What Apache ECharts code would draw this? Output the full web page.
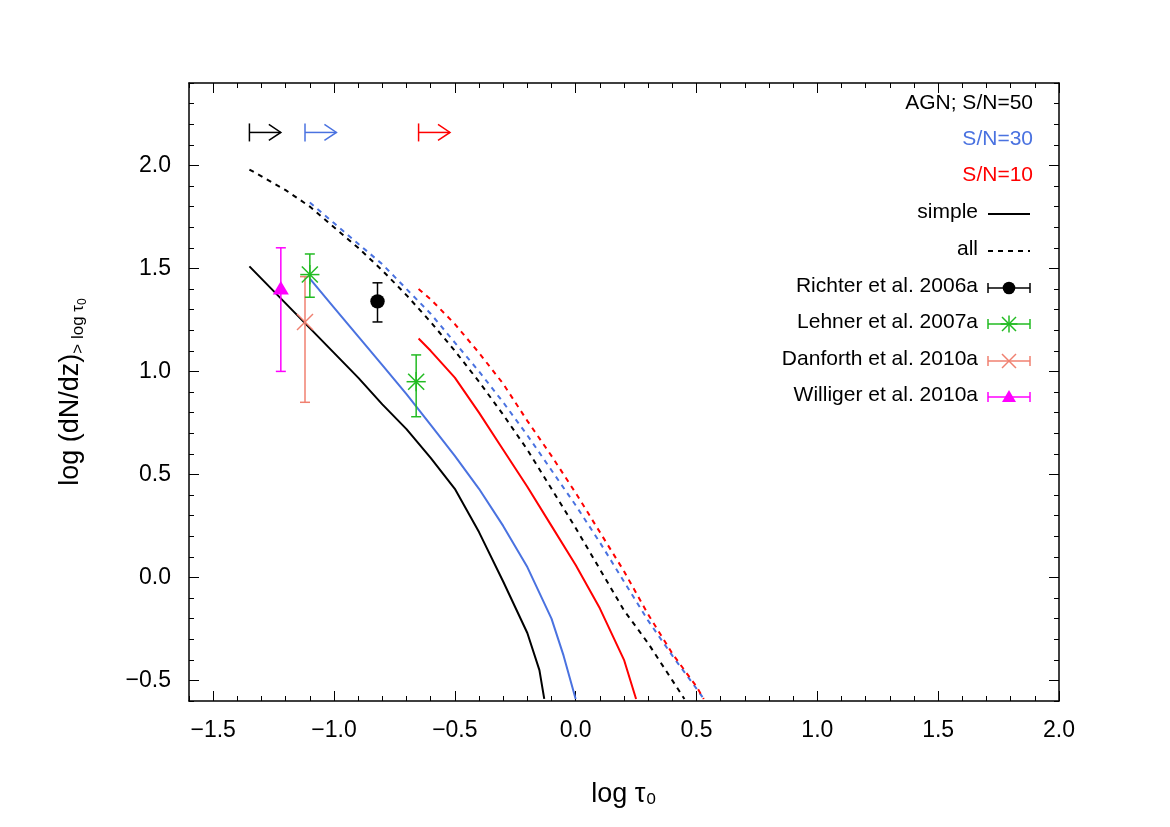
<!DOCTYPE html>
<html lang="en">
  <head>
    <meta charset="utf-8" />
    <title>dN/dz</title>
    <script src="https://cdn.jsdelivr.net/npm/echarts@6/dist/echarts.min.js"></script>
  </head>
  <body style="margin:0">
    <div id="main" style="width: 1170px; height: 827px;"></div>
    <script type="text/javascript">
      // curves: [log tau0, log dN/dz]
      const simple50 = [[-1.35,1.51],[-1.2,1.33],[-1.1,1.21],[-1.0,1.09],[-0.9,0.97],[-0.8,0.84],[-0.7,0.72],[-0.6,0.58],[-0.5,0.43],[-0.4,0.22],[-0.3,-0.02],[-0.2,-0.27],[-0.15,-0.45],[-0.13,-0.59]]
      const simple30 = [[-1.1,1.45],[-1.0,1.31],[-0.9,1.17],[-0.8,1.03],[-0.7,0.89],[-0.6,0.74],[-0.5,0.59],[-0.4,0.43],[-0.3,0.25],[-0.2,0.05],[-0.1,-0.20],[-0.05,-0.38],[0.0,-0.59]]
      const simple10 = [[-0.65,1.16],[-0.6,1.10],[-0.5,0.97],[-0.4,0.80],[-0.3,0.62],[-0.2,0.44],[-0.1,0.25],[0.0,0.06],[0.1,-0.15],[0.2,-0.40],[0.25,-0.59]]
      const all50 = [[-1.35,1.98],[-1.2,1.88],[-1.1,1.80],[-1.0,1.70],[-0.9,1.60],[-0.8,1.49],[-0.7,1.37],[-0.6,1.24],[-0.5,1.10],[-0.4,0.95],[-0.3,0.79],[-0.2,0.62],[-0.1,0.43],[0.0,0.24],[0.1,0.04],[0.2,-0.16],[0.3,-0.32],[0.4,-0.50],[0.45,-0.59]]
      const all30 = [[-1.1,1.82],[-1.0,1.72],[-0.9,1.62],[-0.8,1.52],[-0.7,1.40],[-0.6,1.28],[-0.5,1.14],[-0.4,1.00],[-0.3,0.85],[-0.2,0.69],[-0.1,0.52],[0.0,0.35],[0.1,0.17],[0.2,-0.02],[0.3,-0.21],[0.4,-0.38],[0.5,-0.54],[0.53,-0.59]]
      const all10 = [[-0.65,1.40],[-0.6,1.35],[-0.5,1.23],[-0.4,1.09],[-0.3,0.94],[-0.2,0.76],[-0.1,0.59],[0.0,0.41],[0.1,0.22],[0.2,0.03],[0.3,-0.18],[0.4,-0.37],[0.5,-0.53],[0.53,-0.59]]
      // observations: [x, y, ylow, yhigh]
      const richter = [[-0.82,1.34,1.24,1.43]]
      const lehner = [[-1.10,1.47,1.36,1.57],[-0.66,0.95,0.78,1.08]]
      const danforth = [[-1.12,1.24,0.85,1.46]]
      const williger = [[-1.22,1.40,1.00,1.60]]
      // completeness limits: [x start, x end, y, colour]
      const limits = [[-1.35,-1.22,2.16,'#000'],[-1.12,-0.99,2.16,'#4a72e0'],[-0.65,-0.52,2.16,'#f00']]
      // tick values
      const xMajor = [-1.5, -1.0, -0.5, 0.0, 0.5, 1.0, 1.5, 2.0]
      const yMajor = [-0.5, 0.0, 0.5, 1.0, 1.5, 2.0]

      const BLUE = '#4a72e0', RED = '#ff0000'
      const font = 'Liberation Sans'

      const line = (data, color, dashed, w) => ({
        type: 'line', data: data, symbol: 'none', animation: false,
        lineStyle: {color: color, width: w || 2, type: dashed ? [5, 5] : 'solid'}
      })

      const marker = (kind, color, p, s) => {
        if (kind === 'circle') return {type: 'circle', shape: {cx: p[0], cy: p[1], r: s * 0.9}, style: {fill: color}}
        if (kind === 'triangle') return {type: 'polygon', shape: {points: [[p[0], p[1] - s * 1.0], [p[0] - s * 1.0, p[1] + s * 0.7], [p[0] + s * 1.0, p[1] + s * 0.7]]}, style: {fill: color}}
        const segs = [[[-s, -s], [s, s]], [[-s, s], [s, -s]]]
        if (kind === 'star') segs.push([[-s * 1.2, 0], [s * 1.2, 0]], [[0, -s * 1.2], [0, s * 1.2]])
        return {type: 'group', children: segs.map(g => ({type: 'line', shape: {x1: p[0] + g[0][0], y1: p[1] + g[0][1], x2: p[0] + g[1][0], y2: p[1] + g[1][1]}, style: {stroke: color, lineWidth: 1.5}}))}
      }

      const errSeries = (data, color, kind) => ({
        type: 'custom', data: data, animation: false, z: 5,
        renderItem: (params, api) => {
          const c = api.coord([api.value(0), api.value(1)])
          const lo = api.coord([api.value(0), api.value(2)])
          const hi = api.coord([api.value(0), api.value(3)])
          const st = {stroke: color, lineWidth: 1.5}
          return {type: 'group', children: [
            {type: 'line', shape: {x1: c[0], y1: lo[1], x2: c[0], y2: hi[1]}, style: st},
            {type: 'line', shape: {x1: c[0] - 5, y1: lo[1], x2: c[0] + 5, y2: lo[1]}, style: st},
            {type: 'line', shape: {x1: c[0] - 5, y1: hi[1], x2: c[0] + 5, y2: hi[1]}, style: st},
            marker(kind, color, c, 8)
          ]}
        }
      })

      const arrowSeries = {
        type: 'custom', data: limits, animation: false,
        renderItem: (params, api) => {
          const a = api.coord([api.value(0), api.value(2)])
          const b = api.coord([api.value(1), api.value(2)])
          const col = limits[params.dataIndex][3]
          const st = {stroke: col, lineWidth: 1.5, fill: 'none'}
          return {type: 'group', children: [
            {type: 'line', shape: {x1: a[0], y1: a[1] - 9, x2: a[0], y2: a[1] + 9}, style: st},
            {type: 'line', shape: {x1: a[0], y1: a[1], x2: b[0], y2: b[1]}, style: st},
            {type: 'polyline', shape: {points: [[b[0] - 12, b[1] - 8], [b[0], b[1]], [b[0] - 12, b[1] + 8]]}, style: st}
          ]}
        }
      }

      const fmt = v => (v < 0 ? '\u2212' : '') + Math.abs(v).toFixed(1)
      const labelStyle = {fontFamily: font, fontSize: 23, color: '#000', margin: 18}
      // major axis: custom ticks + labels; minor axis: 0.1 ticks
      const major = (pos, min, max, values, labels, extra) => Object.assign({
        type: 'value', min: min, max: max, position: pos, splitLine: {show: false},
        axisLine: {onZero: false, lineStyle: {color: '#000', width: 1.5}},
        axisTick: {inside: true, length: 10, customValues: values, lineStyle: {color: '#000'}},
        axisLabel: labels ? Object.assign({customValues: values, formatter: fmt}, labelStyle) : {show: false}
      }, extra || {})
      const minor = (pos, min, max) => ({
        type: 'value', min: min, max: max, interval: 0.1, position: pos, splitLine: {show: false},
        axisLine: {show: false, onZero: false},
        axisTick: {inside: true, length: 5, lineStyle: {color: '#000'}},
        axisLabel: {show: false}
      })

      const legTexts = [
        ['AGN; S/N=50', '#000', 105, 1033], ['S/N=30', BLUE, 141, 1033], ['S/N=10', RED, 177, 1033],
        ['simple', '#000', 214, 978], ['all', '#000', 251, 978], ['Richter et al. 2006a', '#000', 288, 978],
        ['Lehner et al. 2007a', '#000', 324, 978], ['Danforth et al. 2010a', '#000', 361, 978], ['Williger et al. 2010a', '#000', 397, 978]
      ]
      const graphics = legTexts.map(t => ({
        type: 'text', right: 1170 - t[3], top: t[2] - 12,
        style: {text: t[0], fill: t[1], font: '21px ' + font}
      }))
      const sample = (y, color, dash, kind) => {
        const items = [{type: 'line', shape: {x1: 988, y1: y, x2: 1030, y2: y}, style: {stroke: color, lineWidth: kind ? 1.5 : 2, lineDash: dash ? [5, 5] : null}}]
        if (kind) {
          items.push({type: 'line', shape: {x1: 988, y1: y - 5, x2: 988, y2: y + 5}, style: {stroke: color, lineWidth: 1.5}})
          items.push({type: 'line', shape: {x1: 1030, y1: y - 5, x2: 1030, y2: y + 5}, style: {stroke: color, lineWidth: 1.5}})
          items.push(marker(kind, color, [1009, y], 7))
        }
        return {type: 'group', children: items}
      }
      graphics.push(sample(214, '#000', false), sample(251, '#000', true),
        sample(288, '#000', false, 'circle'), sample(324, '#22bb22', false, 'star'),
        sample(361, '#f08070', false, 'cross'), sample(397, '#ff00ff', false, 'triangle'))

      const myChart = echarts.init(document.getElementById('main'))
      myChart.setOption({
        backgroundColor: '#fff',
        grid: {left: 189, right: 111, top: 83, bottom: 126},
        xAxis: [
          major('bottom', -1.6, 2.0, xMajor, true, {
            name: 'log \u03c4\u2080', nameLocation: 'middle', nameGap: 80,
            nameTextStyle: {fontFamily: font, fontSize: 27, color: '#000'}}),
          major('top', -1.6, 2.0, xMajor, false),
          minor('bottom', -1.6, 2.0),
          minor('top', -1.6, 2.0)
        ],
        yAxis: [
          major('left', -0.6, 2.4, yMajor, true, {
            name: '{a|log (dN/dz)}{s|> log \u03c4}{ss|0}', nameLocation: 'middle', nameGap: 100,
            nameTextStyle: {rich: {
              a: {fontFamily: font, fontSize: 27, color: '#000'},
              s: {fontFamily: font, fontSize: 17, color: '#000', padding: [14, 0, 0, 0]},
              ss: {fontFamily: font, fontSize: 12, color: '#000', padding: [24, 0, 0, 0]}}}}),
          major('right', -0.6, 2.4, yMajor, false),
          minor('left', -0.6, 2.4),
          minor('right', -0.6, 2.4)
        ],
        series: [
          line(all50, '#000', true), line(all30, BLUE, true), line(all10, RED, true),
          line(simple50, '#000', false), line(simple30, BLUE, false), line(simple10, RED, false),
          errSeries(williger, '#ff00ff', 'triangle'),
          errSeries(danforth, '#f08070', 'cross'),
          errSeries(lehner, '#22bb22', 'star'),
          errSeries(richter, '#000', 'circle'),
          arrowSeries
        ],
        graphic: graphics
      })
    </script>
  </body>
</html>
